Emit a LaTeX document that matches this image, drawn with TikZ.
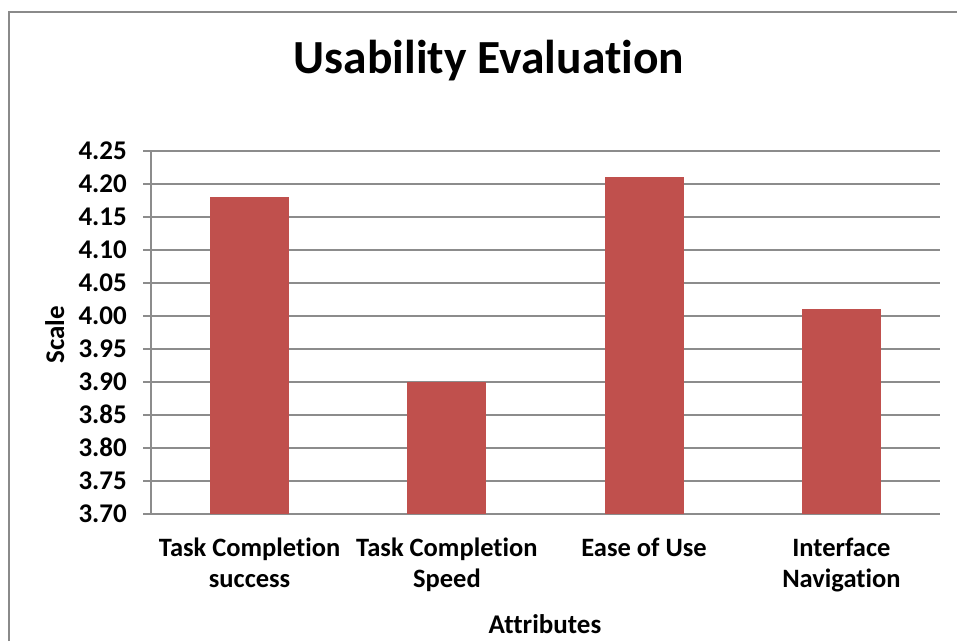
\documentclass[tikz,border=0pt]{standalone}
\usepackage{fontspec}
\setmainfont[Ligatures=NoCommon]{Carlito}
\definecolor{barred}{HTML}{C0504D}
\definecolor{gridgray}{HTML}{8C8C8C}
\definecolor{framegray}{HTML}{8A8A8A}
\begin{document}
\begin{tikzpicture}[x=1pt,y=1pt,
  grid/.style={draw=gridgray,line width=1.3pt},
  bar/.style={fill=barred,draw=none},
  ticklabel/.style={anchor=base east,inner sep=0pt,font=\fontsize{27}{30}\selectfont\bfseries},
  catlabel/.style={anchor=base,align=center,inner sep=0pt,font=\fontsize{26.5}{31}\selectfont\bfseries},
  axtitle/.style={inner sep=0pt,font=\fontsize{27}{30}\selectfont\bfseries}]
\useasboundingbox (0,0) rectangle (957,641);
\fill[white] (0,0) rectangle (957,641);
% frame
\draw[draw=framegray,line width=2pt] (9,0) -- (9,629) -- (957,629);
% gridlines and tick labels
\foreach \v/\lab [count=\i] in {3.70/3.70,3.75/3.75,3.80/3.80,3.85/3.85,3.90/3.90,3.95/3.95,4.00/4.00,4.05/4.05,4.10/4.10,4.15/4.15,4.20/4.20,4.25/4.25}{
  \pgfmathsetmacro{\yy}{127+660*(\v-3.70)}
  \draw[grid] (143,\yy) -- (940,\yy);
  \node[ticklabel] (t\i) at (127,\yy-8.5) {\lab};
}
\draw[grid] (151,127) -- (151,490);
% bars
\fill[bar] (210.1,127) rectangle (289.1,443.8);
\fill[bar] (407.4,127) rectangle (486.4,259);
\fill[bar] (604.6,127) rectangle (683.6,463.6);
\fill[bar] (801.9,127) rectangle (880.9,331.6);
% category labels (base = last line)
\node[catlabel] (c1) at (249.6,54) {Task Completion\\success};
\node[catlabel] (c2) at (446.9,54) {Task Completion\\Speed};
\node[catlabel] (c3) at (644.1,85) {Ease of Use};
\node[catlabel] (c4) at (841.4,54) {Interface\\Navigation};
% titles
\node[anchor=base,inner sep=0pt,font=\fontsize{47.5}{52}\selectfont\bfseries] (title) at (489,567.5) {Usability Evaluation};
\node[axtitle,anchor=base,rotate=90] (ytitle) at (64,306) {Scale};
\node[axtitle,anchor=base] (xtitle) at (545,8) {Attributes};
\end{tikzpicture}
\end{document}
